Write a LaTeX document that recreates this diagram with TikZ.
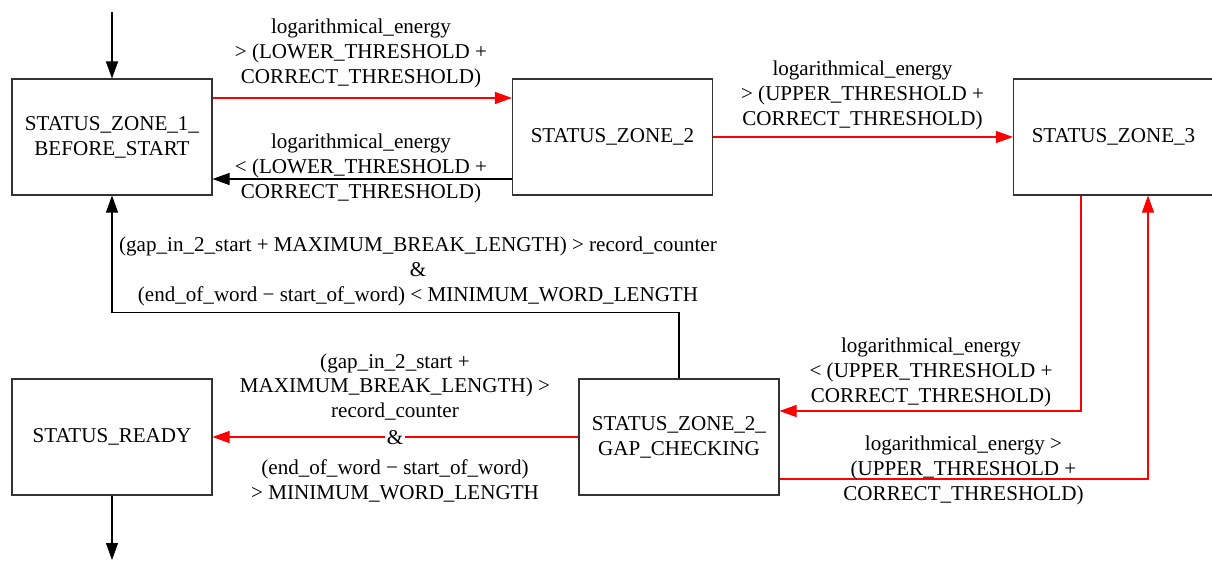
\documentclass[tikz,border=0pt]{standalone}
\usepackage{fontspec}
\setmainfont{Liberation Serif}
\usetikzlibrary{arrows.meta}

\tikzset{
  state/.style={draw=black!80, line width=0.6pt, minimum width=4cm, minimum height=2.32cm, align=center, inner sep=0pt},
  cond/.style={align=center, inner sep=0pt},
  go/.style={red, line width=0.6pt, -{Triangle[length=0.34cm, width=0.24cm]}},
  back/.style={black, line width=0.6pt, -{Triangle[length=0.34cm, width=0.24cm]}}
}

\begin{document}
\begin{tikzpicture}[font=\fontsize{12}{14.2}\selectfont]
  \useasboundingbox (0,0) rectangle (24.24,-11.22);

  \node[state] (z1) at (2.24,-2.74) {STATUS\_ZONE\_1\_\\BEFORE\_START};
  \node[state] (z2) at (12.25,-2.74) {STATUS\_ZONE\_2};
  \node[state] (z3) at (22.27,-2.74) {STATUS\_ZONE\_3};
  \node[state] (gap) at (13.58,-8.74) {STATUS\_ZONE\_2\_\\GAP\_CHECKING};
  \node[state] (ready) at (2.24,-8.74) {STATUS\_READY};

  \coordinate (in) at (2.24,-0.24);
  \coordinate (out) at (2.24,-11.2);

  \draw[back] (in) -- (z1.north);
  \draw[back] (ready.south) -- (out);

  \draw[go] ([yshift=0.78cm]z1.east) -- ([yshift=0.78cm]z2.west);
  \draw[back] ([yshift=-0.84cm]z2.west) -- ([yshift=-0.84cm]z1.east);
  \draw[go] (z2.east) -- (z3.west);
  \draw[go] ([xshift=-0.65cm]z3.south) |- ([yshift=0.52cm]gap.east);
  \draw[go] ([yshift=-0.84cm]gap.east) -| ([xshift=0.69cm]z3.south);
  \draw[back] (gap.north) -- ++(0,1.32) -| (z1.south);
  \draw[go] (gap.west) -- (ready.east);

  \node[cond] (c12) at (7.22,-1.06) {logarithmical\_energy\\> (LOWER\_THRESHOLD +\\CORRECT\_THRESHOLD)};
  \node[cond] (c21) at (7.22,-3.36) {logarithmical\_energy\\< (LOWER\_THRESHOLD +\\CORRECT\_THRESHOLD)};
  \node[cond] (c23) at (17.25,-1.9) {logarithmical\_energy\\> (UPPER\_THRESHOLD +\\CORRECT\_THRESHOLD)};
  \node[cond] (c3g) at (18.62,-7.44) {logarithmical\_energy\\< (UPPER\_THRESHOLD +\\CORRECT\_THRESHOLD)};
  \node[cond] (cg3) at (19.27,-9.4) {logarithmical\_energy >\\(UPPER\_THRESHOLD +\\CORRECT\_THRESHOLD)};
  \node[cond] (cg1) at (8.36,-5.42) {(gap\_in\_2\_start + MAXIMUM\_BREAK\_LENGTH) > record\_counter\\\&\\(end\_of\_word − start\_of\_word) < MINIMUM\_WORD\_LENGTH};
  \node[cond] (cgr) at (7.9,-7.74) {(gap\_in\_2\_start +\\MAXIMUM\_BREAK\_LENGTH) >\\record\_counter};
  \node[cond, fill=white, inner sep=1pt] (amp) at (7.9,-8.76) {\&};
  \node[cond] (cgr2) at (7.9,-9.61) {(end\_of\_word − start\_of\_word)\\> MINIMUM\_WORD\_LENGTH};
\end{tikzpicture}
\end{document}
